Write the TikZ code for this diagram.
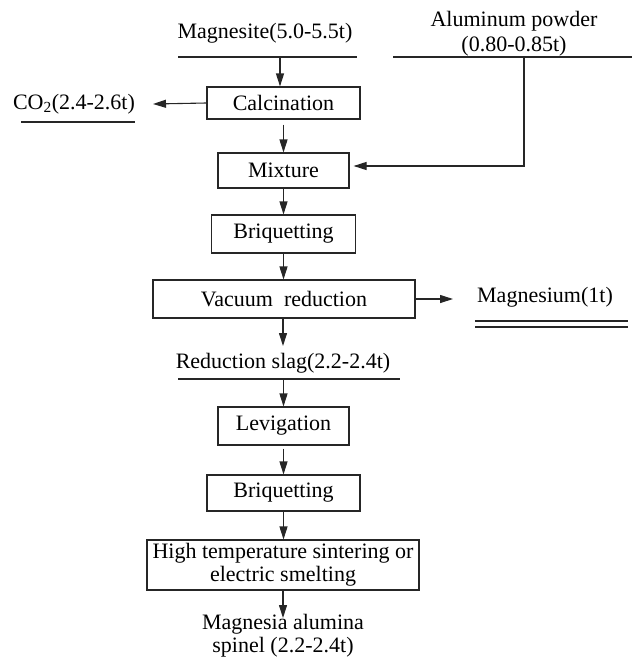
\documentclass[tikz,border=0pt]{standalone}
\usepackage{fontspec}
\setmainfont{Liberation Serif}
\usetikzlibrary{arrows.meta}
\newcommand\dfont{\fontsize{22}{25}\selectfont}
\begin{document}
\begin{tikzpicture}[x=1pt,y=-1pt,
  ln/.style={draw=black!85, line width=1.1pt},
  arr/.style={draw=black!85, line width=1.1pt, -{Triangle[length=13pt,width=8pt]}},
  box/.style={draw=black!85, line width=1.1pt, inner sep=0pt, font=\dfont},
  txt/.style={inner sep=0pt, font=\dfont}]
\useasboundingbox (0,0) rectangle (638,662);
% inputs
\node[txt] (mg) at (265,33) {Magnesite(5.0-5.5t)};
\coordinate (mgL) at (178,57); \coordinate (mgR) at (357,57);
\draw[ln] (mgL) -- (mgR);
\node[txt, align=center] (al) at (514,34) {Aluminum powder\\(0.80-0.85t)};
\coordinate (alL) at (393,57); \coordinate (alR) at (632,57);
\draw[ln] (alL) -- (alR);
% process boxes
\node[box, minimum width=153, minimum height=32] (calc) at (283.5,103) {Calcination};
\node[box, minimum width=131, minimum height=35] (mix) at (283.5,170.5) {Mixture};
\node[box, minimum width=144, minimum height=38] (bq1) at (283.5,234) {Briquetting};
\node[box, minimum width=262, minimum height=38] (vac) at (284,299) {Vacuum\ \ reduction};
\node[txt] (slag) at (283,363) {Reduction slag(2.2-2.4t)};
\coordinate (slagL) at (178,379); \coordinate (slagR) at (400,379);
\draw[ln] (slagL) -- (slagR);
\node[box, minimum width=131, minimum height=38] (lev) at (283.5,426) {Levigation};
\node[box, minimum width=153, minimum height=36] (bq2) at (283.5,493) {Briquetting};
\node[box, minimum width=272, minimum height=50, align=center] (ht) at (283,565) {High temperature sintering or\\[-2pt]electric smelting};
\node[txt, align=center] (sp) at (283,636) {Magnesia alumina\\[-2pt]spinel (2.2-2.4t)};
% outputs
\node[txt] (co2) at (74,104) {CO\textsubscript{2}(2.4-2.6t)};
\coordinate (co2L) at (21,122); \coordinate (co2R) at (135,122);
\draw[ln] (co2L) -- (co2R);
\node[txt] (mgm) at (545,297) {Magnesium(1t)};
\coordinate (mgmL) at (475,321); \coordinate (mgmR) at (628,321);
\draw[ln] (mgmL) -- (mgmR);
\draw[ln] ([yshift=-6pt]mgmL) -- ([yshift=-6pt]mgmR);
% connectors
\coordinate (mgA) at (280,57);
\draw[arr] (mgA) -- (mgA |- calc.north);
\coordinate (co2A) at (153,104);
\draw[arr] (calc.west) -- (co2A);
\draw[arr, shorten <=5pt] (calc.south) -- (calc.south |- mix.north);
\coordinate (alA) at (524,57);
\draw[arr, shorten >=4pt] (alA) |- ([yshift=4.5pt]mix.east);
\draw[arr] (mix.south) -- (mix.south |- bq1.north);
\draw[arr] (bq1.south) -- (bq1.south |- vac.north);
\coordinate (mgmA) at (453,299);
\draw[arr] (vac.east) -- (mgmA);
\coordinate (slagA) at (283,346);
\draw[arr] (vac.south -| slagA) -- (slagA);
\draw[arr] (lev.north |- slagL) -- (lev.north);
\draw[arr, shorten <=3pt] (lev.south) -- (lev.south |- bq2.north);
\draw[arr] (bq2.south) -- (bq2.south |- ht.north);
\coordinate (spA) at (283,618);
\draw[arr] (ht.south) -- (spA);
\end{tikzpicture}
\end{document}
